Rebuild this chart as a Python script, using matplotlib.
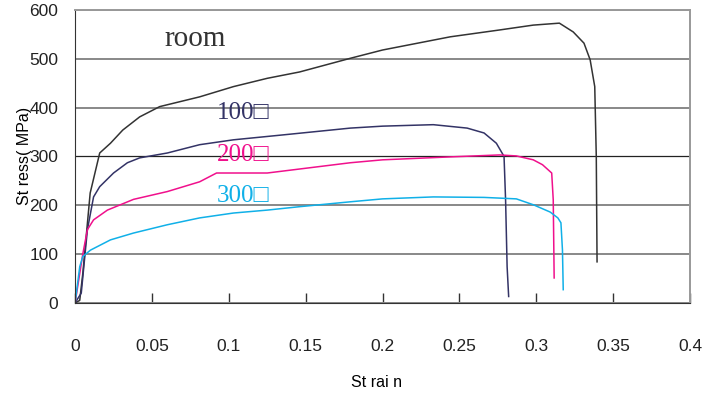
import matplotlib
matplotlib.use("Agg")
import matplotlib.pyplot as plt
from matplotlib import font_manager

# strain / stress points
room_strain = [0, 0.003, 0.005, 0.0098, 0.016, 0.023, 0.031, 0.042, 0.055, 0.081, 0.103, 0.125,
               0.146, 0.179, 0.200, 0.244, 0.276, 0.298, 0.315, 0.324, 0.331, 0.335, 0.338, 0.339, 0.3395]
room_stress = [0, 5, 60, 225, 307, 327, 354, 381, 402, 422, 443, 460,
               473, 501, 518, 545, 559, 569, 573, 555, 532, 498, 443, 299, 84]

t100_strain = [0, 0.004, 0.008, 0.012, 0.016, 0.025, 0.034, 0.042, 0.060, 0.081, 0.103, 0.135,
               0.179, 0.200, 0.233, 0.255, 0.266, 0.274, 0.279, 0.280, 0.281, 0.282]
t100_stress = [0, 20, 150, 217, 238, 266, 287, 297, 307, 324, 334, 344,
               358, 362, 365, 358, 348, 327, 300, 211, 74, 13]

t200_strain = [0, 0.005, 0.008, 0.012, 0.021, 0.038, 0.060, 0.081, 0.092, 0.125, 0.179, 0.200,
               0.244, 0.276, 0.287, 0.298, 0.304, 0.310, 0.311, 0.3116]
t200_stress = [0, 100, 150, 170, 190, 212, 228, 248, 266, 266, 287, 293,
               299, 303, 301, 293, 283, 266, 211, 51]

t300_strain = [0, 0.003, 0.005, 0.010, 0.023, 0.038, 0.060, 0.081, 0.103, 0.125, 0.146, 0.179,
               0.200, 0.233, 0.266, 0.287, 0.298, 0.309, 0.314, 0.316, 0.317, 0.3175]
t300_stress = [0, 74, 95, 108, 129, 143, 160, 174, 184, 190, 197, 207,
               213, 217, 216, 213, 201, 186, 174, 164, 108, 27]

labels = ["room", "100\u25a1", "200\u25a1", "300\u25a1"]
colors = ["#333333", "#333366", "#f0108c", "#10b0e8"]

xticks = [0, 0.05, 0.1, 0.15, 0.2, 0.25, 0.3, 0.35, 0.4]
yticks = [0, 100, 200, 300, 400, 500, 600]

names = {f.name for f in font_manager.fontManager.ttflist}
sans = "Liberation Sans Narrow" if "Liberation Sans Narrow" in names else "Liberation Sans"

fig = plt.figure(figsize=(7.02, 3.99), dpi=100)
ax = fig.add_axes([0.107, 0.241, 0.876, 0.734])

curves = [(room_strain, room_stress), (t100_strain, t100_stress),
          (t200_strain, t200_stress), (t300_strain, t300_stress)]
for (xs, ys), c in zip(curves, colors):
    ax.plot(xs, ys, color=c, lw=1.1)

ax.set_xlim(0, 0.4)
ax.set_ylim(0, 600)
ax.set_xticks(xticks)
ax.set_xticklabels([f"{v:g}" for v in xticks], family=sans, fontsize=12.5)
ax.set_yticks(yticks)
ax.set_yticklabels([str(v) for v in yticks], family=sans, fontsize=12.5)
ax.tick_params(axis="x", direction="in", length=7, width=1, pad=26, colors="#333333", labelcolor="#222222")
ax.tick_params(axis="y", length=0, pad=12, labelcolor="#222222")

ax.yaxis.grid(True, color="#888888", lw=1.4)
for v, gl in zip(yticks, ax.get_ygridlines()):
    if v == 300:
        gl.set_color("#222222")
        gl.set_linewidth(0.9)

for side in ["top", "right"]:
    ax.spines[side].set_color("#999999")
    ax.spines[side].set_linewidth(1.4)
ax.spines["left"].set_color("#333333")
ax.spines["bottom"].set_color("#333333")

ax.set_ylabel("St ress( MPa)", family=sans, fontsize=11.5, va="center")
ax.yaxis.set_label_coords(-0.082, 0.5)
ax.set_xlabel("St rai n", family=sans, fontsize=11.5)
ax.xaxis.set_label_coords(0.49, -0.245)

serif = ["Liberation Serif", "DejaVu Sans"]
ax.text(0.058, 540, labels[0], color=colors[0], family=serif, fontsize=21, va="center")
ax.text(0.092, 388, labels[1], color=colors[1], family=serif, fontsize=18, va="center")
ax.text(0.092, 302, labels[2], color=colors[2], family=serif, fontsize=18, va="center")
ax.text(0.092, 218, labels[3], color=colors[3], family=serif, fontsize=18, va="center")

fig.savefig("out.png", dpi=100)
